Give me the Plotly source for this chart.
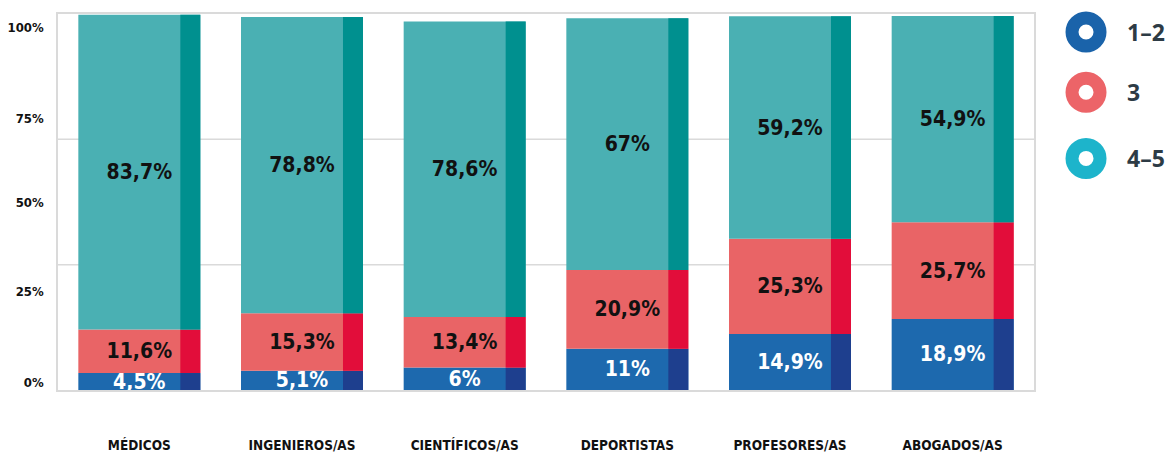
"""Stacked bar chart: valoración por profesión (1-2, 3, 4-5)."""

import numpy as np
import plotly.graph_objects as go

categories = ["MÉDICOS", "INGENIEROS/AS", "CIENTÍFICOS/AS",
              "DEPORTISTAS", "PROFESORES/AS", "ABOGADOS/AS"]
low_12 = [4.5, 5.1, 6, 11, 14.9, 18.9]
mid_3 = [11.6, 15.3, 13.4, 20.9, 25.3, 25.7]
high_45 = [83.7, 78.8, 78.6, 67, 59.2, 54.9]
legend_labels = ["1–2", "3", "4–5"]
y_tick_labels = ["0%", "25%", "50%", "75%", "100%"]

# the original infographic draws its % labels slightly squeezed inside the frame
Y_TICK_POS = [1.9, 26.1, 50.0, 72.3, 96.5]

NARROW = "Liberation Sans Narrow, DejaVu Sans Condensed, Arial Narrow, sans-serif"

# (values, main colour, side strip colour, label colour, legend colour)
series = [
    (low_12, "#1D69AE", "#1E3F8E", "white", "#1A63AA"),
    (mid_3, "#E96466", "#E20D3A", "#111111", "#EC6468"),
    (high_45, "#4AB0B3", "#00908F", "#111111", "#1DB4CB"),
]

BAR_W = 0.75
STRIP_W = 0.123


def fmt(v):
    return f"{v:g}".replace(".", ",") + "%"


fig = go.Figure()
base = np.zeros(len(categories))
for values, main, strip, txt_color, _ in series:
    vals = np.array(values, dtype=float)
    fig.add_trace(go.Bar(
        x=categories, y=vals, base=base, width=BAR_W,
        marker=dict(color=main, line=dict(width=0)),
        text=[fmt(v) for v in values], textposition="inside",
        insidetextanchor="middle", constraintext="none",
        textfont=dict(family=NARROW, size=21, color=txt_color, weight="bold"),
        showlegend=False, hoverinfo="skip",
    ))
    fig.add_trace(go.Bar(
        x=categories, y=vals, base=base, width=STRIP_W,
        offset=BAR_W / 2 - STRIP_W,
        marker=dict(color=strip, line=dict(width=0)),
        showlegend=False, hoverinfo="skip",
    ))
    base = base + vals

# light gridlines at thirds of the frame
for g in (100 / 3, 200 / 3):
    fig.add_shape(type="line", xref="paper", x0=0, x1=1, yref="y", y0=g, y1=g,
                  line=dict(color="#DADADA", width=1.5), layer="below")

# custom ring legend
legend_y = [0.952, 0.792, 0.616]
for (_, _, _, _, lc), label, ly in zip(series, legend_labels, legend_y):
    fig.add_shape(type="circle", xref="paper", yref="paper",
                  xsizemode="pixel", ysizemode="pixel",
                  xanchor=1.0533, yanchor=ly, x0=-14, x1=14, y0=-14, y1=14,
                  fillcolor="white", line=dict(color=lc, width=13))
    fig.add_annotation(xref="paper", yref="paper", x=1.093, y=ly,
                       xanchor="left", yanchor="middle", text=label,
                       showarrow=False,
                       font=dict(family="Open Sans", size=23, color="#2D3B45",
                                 weight="bold"))

# page body adds an 8px margin, so the figure is 8px smaller than the window
fig.update_layout(
    width=1167, height=448,
    margin=dict(l=50, r=141, t=6, b=66, autoexpand=False),
    barmode="overlay",
    plot_bgcolor="white", paper_bgcolor="white",
    showlegend=False,
)
fig.update_xaxes(
    showline=True, mirror=True, linecolor="#DADADA", linewidth=1.5,
    showgrid=False, ticks="", ticklabelstandoff=42, automargin=False,
    tickfont=dict(family=NARROW, size=13.5, color="#111111", weight="bold"),
)
fig.update_yaxes(
    range=[0, 100], tickvals=Y_TICK_POS, ticktext=y_tick_labels,
    showline=True, mirror=True, linecolor="#DADADA", linewidth=1.5,
    showgrid=False, zeroline=False, ticks="", ticklabelstandoff=10,
    automargin=False,
    tickfont=dict(family=NARROW, size=13, color="#111111", weight="bold"),
)

fig.write_html("out.html")
